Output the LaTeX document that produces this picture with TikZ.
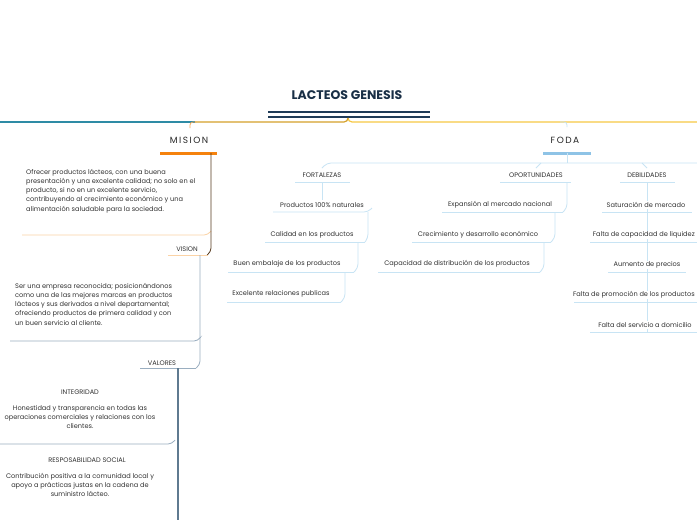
\documentclass[tikz,border=0pt]{standalone}
\usepackage{fontspec}
\setmainfont{Poppins}
\begin{document}
\begin{tikzpicture}[x=1pt,y=-1pt,
  t/.style={font=\fontsize{6.6}{9.2}\selectfont,text=black!80,inner sep=0pt},
  para/.style={t,align=left},
  cpara/.style={t,align=center},
  lb/.style={draw=lblue,line width=0.8pt,rounded corners=4pt},
  gv/.style={draw=gblue,line width=0.8pt,rounded corners=4pt}]
\definecolor{navy}{HTML}{1F3B57}\definecolor{teal}{HTML}{2E8BA5}
\definecolor{gold}{HTML}{D4A02A}\definecolor{yel}{HTML}{F6C845}
\definecolor{org}{HTML}{F5820D}\definecolor{lorg}{HTML}{FBD3A6}
\definecolor{lblue}{HTML}{C8E4F4}\definecolor{bbar}{HTML}{8EC3E6}
\definecolor{gblue}{HTML}{9AAEC0}\definecolor{dgblue}{HTML}{5F7A90}
\fill[white] (0,0) rectangle (697,520);
\clip (0,0) rectangle (697,520);
\node[font=\fontsize{12.5}{14}\selectfont\bfseries,text=navy!80!black] (title) at (347,95) {LACTEOS GENESIS};
\draw[navy,line width=2pt] (268,112)--(430,112) (268,117)--(430,117);
\draw[yel,line width=1.2pt,rounded corners=4pt] (348,118)--(348,122)--(697,122);
\draw[gold,line width=1.2pt,rounded corners=4pt] (348,118)--(348,122)--(195,122);
\draw[teal,line width=1.2pt] (195,122)--(0,122);
\draw[org!70,line width=0.8pt,rounded corners=3pt] (196,122)--(190,122)--(190,128);
\draw[lblue,line width=0.8pt,rounded corners=3pt] (560,122)--(567,122)--(567,127);
% MISION
\node[font=\fontsize{9}{10}\selectfont,text=black!85] (mision) at (189,140) {M\,I\,S\,I\,O\,N};
\draw[org,line width=3pt] (160,153)--(217,153);
\node[para,anchor=north west] (mtext) at (26,169) {Ofrecer productos lácteos, con una buena\\presentación y una excelente calidad; no solo en el\\producto, si no en un excelente servicio,\\contribuyendo al crecimiento económico y una\\alimentación saludable para la sociedad.};
\draw[draw=lorg,line width=0.8pt,rounded corners=4pt] (22,235)--(208,235)--(211,231);
\draw[draw=black!55!brown,line width=0.8pt,rounded corners=4pt] (211,153)--(211,252)--(207,255);
\node[t] (vision) at (187,249) {VISION};
\draw[lorg,line width=1pt] (168,255)--(208,255);
\node[para,anchor=north west] (vtext) at (15,283) {Ser una empresa reconocida; posicionándonos\\como una de las mejores marcas en productos\\lácteos y sus derivados a nivel departamental;\\ofreciendo productos de primera calidad y con\\un buen servicio al cliente.};
\draw[gv] (10,341)--(198,341)--(200,338);
\draw[gv] (200,255)--(200,365)--(196,368);
\node[t] (valores) at (162,363) {VALORES};
\draw[gblue,line width=0.8pt] (140,368)--(196,368);
\node[t] (integ) at (80,392) {INTEGRIDAD};
\node[cpara,anchor=north] (itext) at (80,405) {Honestidad y transparencia en todas las\\operaciones comerciales y relaciones con los\\clientes.};
\draw[gv] (0,444)--(172,444)--(175,440);
\node[t] (resp) at (87,460) {RESPOSABILIDAD SOCIAL};
\node[cpara,anchor=north] (rtext) at (80,473) {Contribución positiva a la comunidad local y\\apoyo a prácticas justas en la cadena de\\suministro lácteo.};
\draw[draw=dgblue,line width=1.2pt] (178,368)--(178,520);
% FODA
\node[font=\fontsize{9}{10}\selectfont,text=black!85] (foda) at (565,140) {F\,O\,D\,A};
\draw[bbar,line width=3pt] (543,153)--(591,153);
\draw[lb] (567,153)--(567,163);
\draw[lb] (322,168)--(327,163)--(697,163);
\draw[lb] (536,168)--(541,163);
\draw[lb] (647,168)--(642,163);
\node[t] (fort) at (322,175) {FORTALEZAS};
\draw[lb] (295,182)--(350,182);
\node[t] (opo) at (536,175) {OPORTUNIDADES};
\draw[lb] (500,182)--(571,182);
\node[t] (deb) at (647,175) {DEBILIDADES};
\draw[lb] (620,182)--(675,182);
\draw[lb] (322,182)--(322,200);
\node[t] (f1) at (322,205) {Productos 100\% naturales};
\draw[lb] (273,212)--(368,212)--(372,208);
\draw[lb] (368,212)--(368,238)--(365,242);
\node[t] (f2) at (312,235) {Calidad en los productos};
\draw[lb] (265,242)--(365,242);
\draw[lb] (358,242)--(358,268)--(354,272);
\node[t] (f3) at (287,264) {Buen embalaje de los productos};
\draw[lb] (228,272)--(354,272);
\draw[lb] (345,272)--(345,298)--(341,302);
\node[t] (f4) at (281,294) {Excelente relaciones publicas};
\draw[lb] (227,302)--(341,302);
\draw[lb] (567,182)--(567,208)--(563,212);
\node[t] (o1) at (500,205) {Expansión al mercado nacional};
\draw[lb] (442,212)--(563,212);
\draw[lb] (555,212)--(555,238)--(551,242);
\node[t] (o2) at (478,235) {Crecimiento y desarrollo económico};
\draw[lb] (412,242)--(551,242);
\draw[lb] (544,242)--(544,268)--(540,272);
\node[t] (o3) at (457,264) {Capacidad de distribución de los productos};
\draw[lb] (378,272)--(540,272);
\draw[lb] (647,182)--(647,332);
\node[t,fill=white,inner sep=1pt] (d1) at (646,205) {Saturación de mercado};
\draw[lb] (602,212)--(692,212);
\node[t,fill=white,inner sep=1pt,anchor=east] (d2) at (696,235) {Falta de capacidad de liquidez};
\draw[lb] (590,242)--(697,242);
\node[t,fill=white,inner sep=1pt] (d3) at (647,265) {Aumento de precios};
\draw[lb] (608,272)--(686,272);
\node[t,fill=white,inner sep=1pt,anchor=east] (d4) at (696,295) {Falta de promoción de los productos};
\draw[lb] (574,302)--(697,302);
\node[t,fill=white,inner sep=1pt] (d5) at (645,325) {Falta del servicio a domicilio};
\draw[lb] (590,332)--(697,332);
\end{tikzpicture}
\end{document}
